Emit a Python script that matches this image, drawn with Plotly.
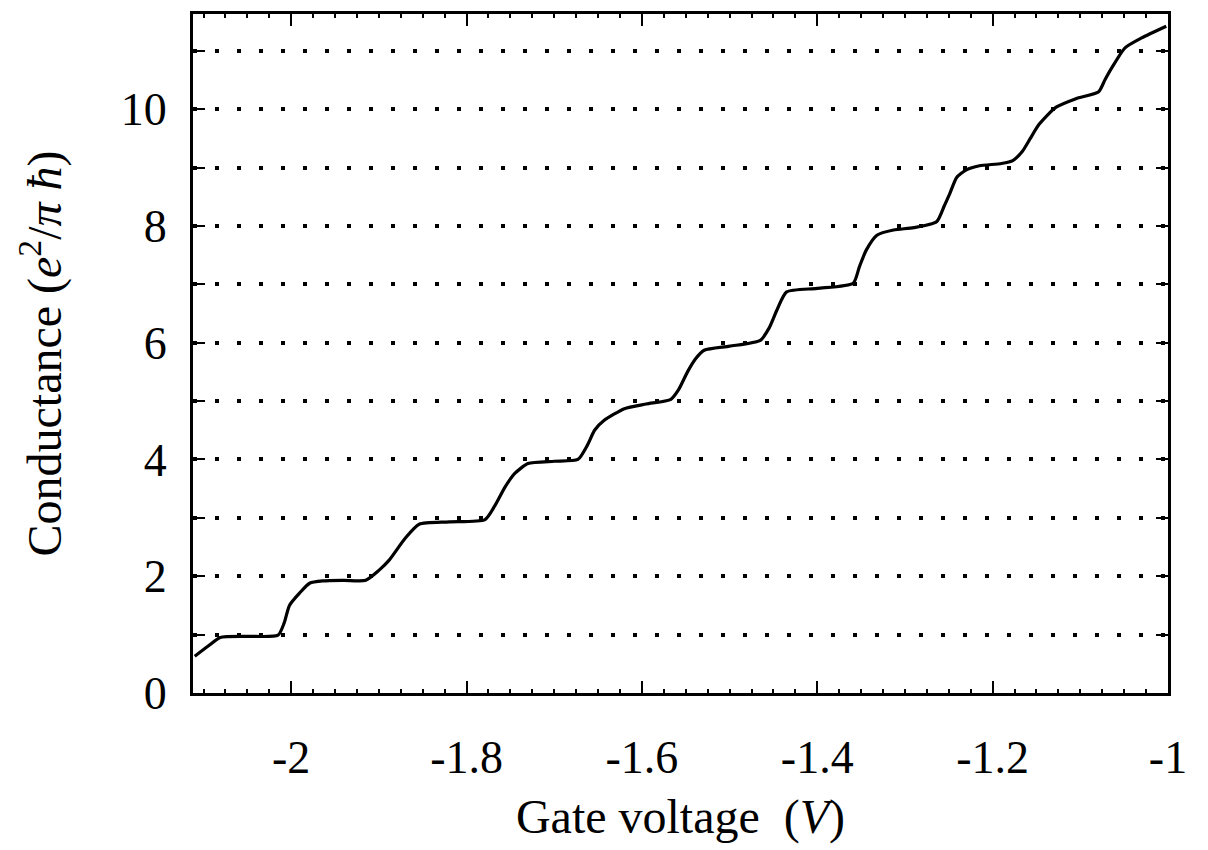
import plotly.graph_objects as go

# Gate voltage (V)
gate_voltage = [-2.11, -2.095, -2.081, -2.05, -2.015, -2.008, -2.002, -1.99, -1.979, -1.964,
                -1.94, -1.915, -1.90, -1.888, -1.870, -1.854, -1.82, -1.779, -1.768, -1.756,
                -1.745, -1.730, -1.70, -1.673, -1.662, -1.654, -1.643, -1.620, -1.595, -1.567,
                -1.558, -1.548, -1.539, -1.529, -1.50, -1.465, -1.455, -1.446, -1.435, -1.40,
                -1.359, -1.352, -1.344, -1.332, -1.313, -1.290, -1.264, -1.255, -1.249, -1.241,
                -1.230, -1.215, -1.190, -1.177, -1.166, -1.157, -1.147, -1.128, -1.105, -1.079,
                -1.072, -1.064, -1.049, -1.030, -1.002]
# Conductance (e^2 / pi hbar)
conductance = [0.63, 0.80, 0.95, 0.97, 0.99, 1.20, 1.50, 1.72, 1.88, 1.92,
               1.93, 1.93, 2.10, 2.28, 2.65, 2.89, 2.93, 2.97, 3.20, 3.53,
               3.76, 3.93, 3.97, 4.00, 4.25, 4.50, 4.67, 4.87, 4.95, 5.03,
               5.20, 5.50, 5.72, 5.87, 5.94, 6.04, 6.25, 6.56, 6.87, 6.93,
               7.02, 7.30, 7.59, 7.84, 7.93, 7.97, 8.07, 8.35, 8.55, 8.83,
               8.96, 9.03, 9.07, 9.12, 9.28, 9.50, 9.74, 10.03, 10.18, 10.30,
               10.50, 10.71, 11.05, 11.22, 11.42]

x_tick_vals = [-2, -1.8, -1.6, -1.4, -1.2, -1]
x_tick_text = ["-2", "-1.8", "-1.6", "-1.4", "-1.2", "-1"]
y_tick_vals = [0, 2, 4, 6, 8, 10]
y_tick_text = ["0", "2", "4", "6", "8", "10"]

FONT = "Liberation Serif, Times New Roman, serif"
GRID_DASH = "4px,18px"

fig = go.Figure()
fig.add_trace(go.Scatter(
    x=gate_voltage, y=conductance, mode="lines",
    line=dict(color="black", width=3.2, shape="spline", smoothing=0.6),
    showlegend=False, hoverinfo="skip",
))

fig.update_layout(
    width=1208, height=850,
    margin=dict(l=193, r=40, t=14, b=157),
    paper_bgcolor="white", plot_bgcolor="white",
    font=dict(family=FONT, color="black"),
)

fig.update_xaxes(
    range=[-2.112, -1.0],
    tickvals=x_tick_vals, ticktext=x_tick_text,
    ticks="inside", ticklen=12, tickwidth=2, tickcolor="black",
    minor=dict(dtick=0.025, tick0=-2, ticks="inside", ticklen=4, tickwidth=1.5,
               tickcolor="black", showgrid=False),
    tickfont=dict(family=FONT, size=46, color="black"),
    ticklabelstandoff=22,
    showline=True, linecolor="black", linewidth=3, mirror="ticks",
    showgrid=False, zeroline=False,
    title=dict(text="Gate voltage\u00a0\u00a0(<i>V</i>)",
               font=dict(family=FONT, size=48, color="black"), standoff=18),
)

fig.update_yaxes(
    range=[0, 11.63],
    tickvals=y_tick_vals, ticktext=y_tick_text,
    ticks="inside", ticklen=12, tickwidth=2, tickcolor="black",
    minor=dict(dtick=1, tick0=0, ticks="inside", ticklen=12, tickwidth=2, tickcolor="black",
               showgrid=True, gridcolor="black", gridwidth=4, griddash=GRID_DASH),
    tickfont=dict(family=FONT, size=46, color="black"),
    ticklabelstandoff=14,
    showline=True, linecolor="black", linewidth=3, mirror="ticks",
    showgrid=True, gridcolor="black", gridwidth=4, griddash=GRID_DASH,
    zeroline=False,
    title=dict(text="Conductance (<i>e</i><sup>2</sup>/<i>π ħ</i>)",
               font=dict(family=FONT, size=48, color="black"), standoff=44),
)

fig.write_html("out.html")
